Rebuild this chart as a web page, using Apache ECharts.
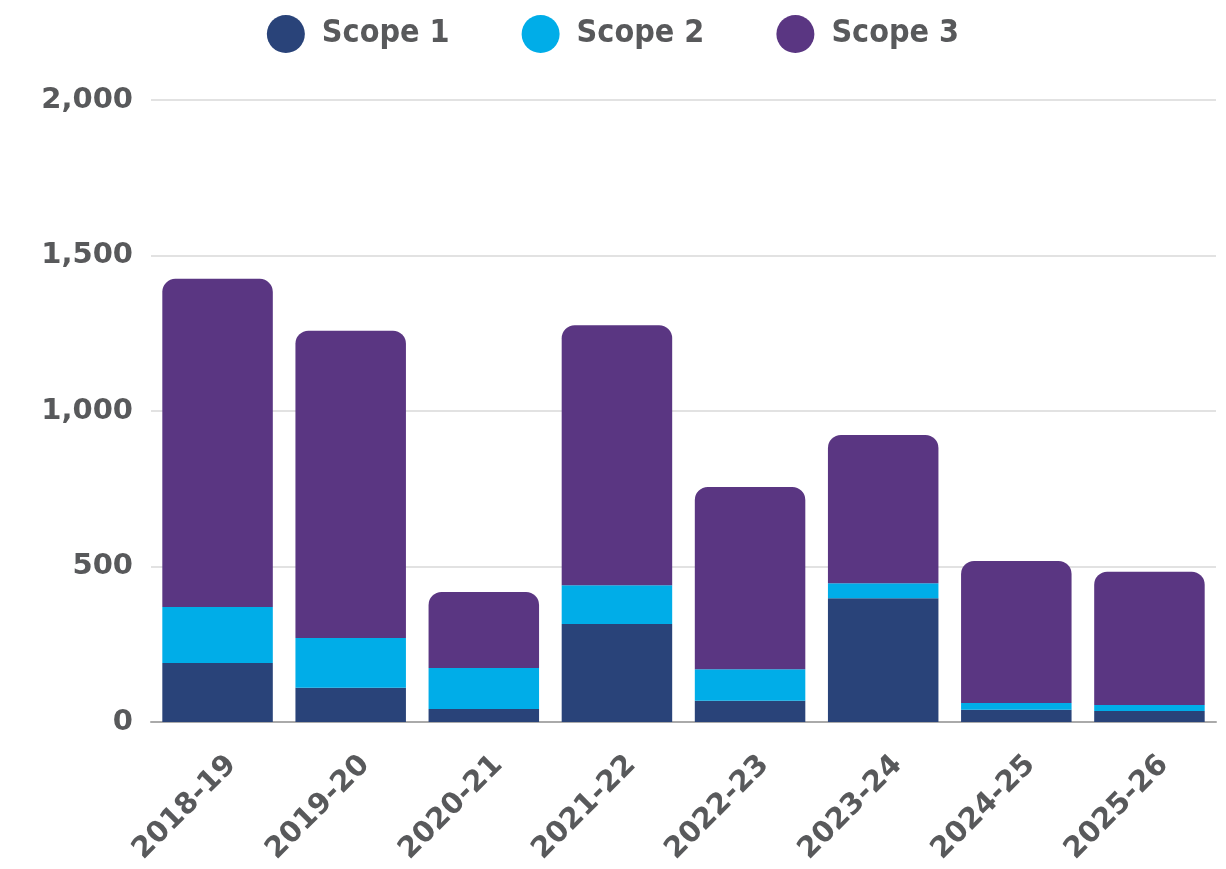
<!DOCTYPE html>
<html>
<head>
<meta charset="utf-8">
<script src="https://cdn.jsdelivr.net/npm/echarts@6/dist/echarts.min.js"></script>
<style>
    html, body { margin: 0; padding: 0; background: #fff; }
    #chart { width: 1226px; height: 869px; }
</style>
</head>
<body>
<div id="chart"></div>
<script>
var years = ["2018-19", "2019-20", "2020-21", "2021-22", "2022-23", "2023-24", "2024-25", "2025-26"];
var scope1 = [190, 110, 42, 315, 68, 398, 39, 35];
var scope2 = [180, 160, 132, 125, 102, 48, 22, 20];
var scope3 = [1055, 988, 244, 836, 586, 477, 457, 428];
var yTicks = [0, 500, 1000, 1500, 2000];

var textGrey = '#58595b';

var chart = echarts.init(document.getElementById('chart'));

var option = {
    animation: false,
    legend: {
        top: 10,
        left: 'center',
        itemWidth: 38,
        itemHeight: 38,
        itemGap: 72,
        icon: 'circle',
        textStyle: {
            fontFamily: 'DejaVu Sans Condensed',
            fontWeight: 'bold',
            fontSize: 32,
            color: textGrey,
            padding: [0, 0, 0, 12]
        },
        data: ['Scope 1', 'Scope 2', 'Scope 3']
    },
    grid: {
        left: 151,
        right: 10,
        top: 100,
        bottom: 147
    },
    xAxis: {
        type: 'category',
        data: years,
        axisTick: { show: false },
        axisLine: { lineStyle: { color: '#aaaaaa', width: 2 } },
        axisLabel: {
            rotate: 45,
            margin: 24,
            align: 'right',
            verticalAlign: 'top',
            padding: [6, 0, 0, 0],
            fontFamily: 'DejaVu Sans',
            fontWeight: 'bold',
            fontSize: 29,
            color: textGrey
        }
    },
    yAxis: {
        type: 'value',
        min: yTicks[0],
        max: yTicks[yTicks.length - 1],
        interval: 500,
        axisLine: { show: false },
        axisTick: { show: false },
        splitLine: { lineStyle: { color: '#d9d9d9', width: 1.5 } },
        axisLabel: {
            margin: 18,
            fontFamily: 'DejaVu Sans',
            fontWeight: 'bold',
            fontSize: 29,
            color: textGrey,
            formatter: function (v) {
                return v.toLocaleString('en-US');
            }
        }
    },
    series: [
        {
            name: 'Scope 1',
            type: 'bar',
            stack: 'total',
            barWidth: '83%',
            itemStyle: { color: '#294379' },
            data: scope1
        },
        {
            name: 'Scope 2',
            type: 'bar',
            stack: 'total',
            itemStyle: { color: '#00ade8' },
            data: scope2
        },
        {
            name: 'Scope 3',
            type: 'bar',
            stack: 'total',
            itemStyle: { color: '#5a3682', borderRadius: [13, 13, 0, 0] },
            data: scope3
        }
    ]
};

chart.setOption(option);
</script>
</body>
</html>
